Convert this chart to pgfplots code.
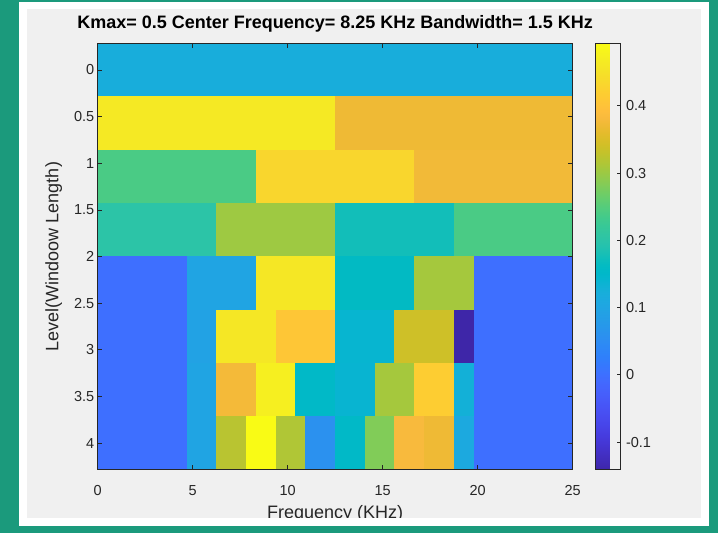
\documentclass[border=0pt]{standalone}
\usepackage{fontspec}
\setmainfont{Liberation Sans}
\usepackage{pgfplots}
\pgfplotsset{compat=1.18}
\definecolor{teal1}{RGB}{27,154,124}
\definecolor{panel}{RGB}{240,240,240}
\definecolor{axgray}{RGB}{38,38,38}
\pgfplotsset{colormap={parula}{
rgb=(0.2422,0.1504,0.6603) rgb=(0.2504,0.1650,0.7076) rgb=(0.2578,0.1818,0.7511) rgb=(0.2647,0.1978,0.7952)
rgb=(0.2706,0.2147,0.8364) rgb=(0.2751,0.2342,0.8710) rgb=(0.2783,0.2559,0.8991) rgb=(0.2803,0.2782,0.9221)
rgb=(0.2813,0.3006,0.9414) rgb=(0.2810,0.3228,0.9579) rgb=(0.2795,0.3447,0.9717) rgb=(0.2760,0.3667,0.9829)
rgb=(0.2699,0.3892,0.9906) rgb=(0.2602,0.4123,0.9952) rgb=(0.2440,0.4358,0.9988) rgb=(0.2206,0.4603,0.9973)
rgb=(0.1963,0.4847,0.9892) rgb=(0.1834,0.5074,0.9798) rgb=(0.1786,0.5289,0.9682) rgb=(0.1764,0.5499,0.9520)
rgb=(0.1687,0.5703,0.9359) rgb=(0.1540,0.5902,0.9218) rgb=(0.1460,0.6091,0.9079) rgb=(0.1380,0.6276,0.8973)
rgb=(0.1248,0.6459,0.8883) rgb=(0.1113,0.6635,0.8763) rgb=(0.0952,0.6798,0.8598) rgb=(0.0689,0.6948,0.8394)
rgb=(0.0297,0.7082,0.8163) rgb=(0.0036,0.7203,0.7917) rgb=(0.0067,0.7312,0.7660) rgb=(0.0433,0.7411,0.7394)
rgb=(0.0964,0.7500,0.7120) rgb=(0.1408,0.7584,0.6842) rgb=(0.1717,0.7670,0.6554) rgb=(0.1938,0.7758,0.6251)
rgb=(0.2161,0.7843,0.5923) rgb=(0.2470,0.7918,0.5567) rgb=(0.2906,0.7973,0.5188) rgb=(0.3406,0.8008,0.4789)
rgb=(0.3909,0.8029,0.4354) rgb=(0.4456,0.8024,0.3909) rgb=(0.5044,0.7993,0.3480) rgb=(0.5616,0.7942,0.3045)
rgb=(0.6174,0.7876,0.2612) rgb=(0.6720,0.7793,0.2227) rgb=(0.7242,0.7698,0.1910) rgb=(0.7738,0.7598,0.1646)
rgb=(0.8203,0.7498,0.1535) rgb=(0.8634,0.7406,0.1596) rgb=(0.9035,0.7330,0.1774) rgb=(0.9393,0.7288,0.2100)
rgb=(0.9728,0.7298,0.2394) rgb=(0.9956,0.7434,0.2371) rgb=(0.9970,0.7659,0.2199) rgb=(0.9952,0.7893,0.2028)
rgb=(0.9892,0.8136,0.1885) rgb=(0.9786,0.8386,0.1766) rgb=(0.9676,0.8639,0.1643) rgb=(0.9610,0.8890,0.1537)
rgb=(0.9597,0.9135,0.1423) rgb=(0.9628,0.9373,0.1265) rgb=(0.9691,0.9606,0.1064) rgb=(0.9769,0.9839,0.0805)
}}
\begin{document}
\begin{tikzpicture}[x=1pt,y=1pt]
\path[use as bounding box] (0,0) rectangle (718,533);
\fill[teal1] (0,0) rectangle (718,533);
\fill[white] (19,7) rectangle (709,531);
\fill[panel] (27,15) rectangle (701,524);
\begin{axis}[
  at={(97.7pt,63.3pt)}, anchor=south west,
  scale only axis, width=475pt, height=426.4pt,
  xmin=0, xmax=25, ymin=-0.2857, ymax=4.2857,
  y dir=reverse,
  xtick={0,5,10,15,20,25}, xticklabels={0,5,10,15,20,25},
  ytick={0,0.5,1,1.5,2,2.5,3,3.5,4}, yticklabels={0,0.5,1,1.5,2,2.5,3,3.5,4},
  tick align=inside, tick pos=both, major tick length=4.5pt,
  axis on top,
  axis line style={axgray, line width=0.7pt},
  every tick/.style={axgray, line width=0.7pt},
  tick label style={font=\fontsize{14.5}{16}\selectfont, text=axgray},
  xticklabel style={anchor=base, yshift=-25.3pt},
  /pgf/number format/assume math mode=true,
  colormap name=parula,
  point meta min=-0.141, point meta max=0.493,
  colorbar,
  colorbar style={
    at={(parent axis.north east)}, anchor=north west, xshift=14.3pt,
    width=25pt,
    ytick={-0.1,0,0.1,0.2,0.3,0.4},
    yticklabels={-0.1,0,0.1,0.2,0.3,0.4},
    ytick pos=right, yticklabel pos=right,
    major tick length=0pt,
    axis line style={axgray, line width=0.7pt},
    every tick/.style={draw=none},
    yticklabel style={font=\fontsize{14.5}{16}\selectfont, text=axgray, xshift=2pt},
    extra description/.code={
      \foreach \v in {-0.1,0,0.1,0.2,0.3,0.4} {
        \draw[axgray, line width=0.8pt] ({rel axis cs:1,0} |- {axis cs:0,\v}) -- ++(-4pt,0);
      }
    },
  },
  title={Kmax= 0.5 Center Frequency= 8.25 KHz Bandwidth= 1.5 KHz},
  title style={font=\fontsize{18}{21}\selectfont\bfseries, text=black, at={(axis description cs:0.5,1)}, anchor=base, yshift=9.3pt},
  xlabel={Frequency (KHz)},
  xlabel style={font=\fontsize{18}{21}\selectfont, text=axgray, at={(axis description cs:0.5,-0.1156)}, anchor=base},
  ylabel={Level(Windoow Length)},
  ylabel style={font=\fontsize{18}{21}\selectfont, text=axgray, at={(axis description cs:-0.0924,0.5)}, anchor=center},
]
\addplot[patch, patch type=rectangle, shader=flat, point meta=explicit] coordinates {
(0,-0.2857) [0.121] (25,-0.2857) [0.121] (25,0.2857) [0.121] (0,0.2857) [0.121]
(0,0.2857) [0.463] (12.5,0.2857) [0.463] (12.5,0.8571) [0.463] (0,0.8571) [0.463]
(12.5,0.2857) [0.372] (25,0.2857) [0.372] (25,0.8571) [0.372] (12.5,0.8571) [0.372]
(0,0.8571) [0.241] (8.3333,0.8571) [0.241] (8.3333,1.4286) [0.241] (0,1.4286) [0.241]
(8.3333,0.8571) [0.433] (16.6667,0.8571) [0.433] (16.6667,1.4286) [0.433] (8.3333,1.4286) [0.433]
(16.6667,0.8571) [0.375] (25,0.8571) [0.375] (25,1.4286) [0.375] (16.6667,1.4286) [0.375]
(0,1.4286) [0.201] (6.25,1.4286) [0.201] (6.25,2) [0.201] (0,2) [0.201]
(6.25,1.4286) [0.302] (12.5,1.4286) [0.302] (12.5,2) [0.302] (6.25,2) [0.302]
(12.5,1.4286) [0.176] (18.75,1.4286) [0.176] (18.75,2) [0.176] (12.5,2) [0.176]
(18.75,1.4286) [0.241] (25,1.4286) [0.241] (25,2) [0.241] (18.75,2) [0.241]
(0,2) [0] (4.6875,2) [0] (4.6875,2.5714) [0] (0,2.5714) [0]
(4.6875,2) [0.100] (8.3333,2) [0.100] (8.3333,2.5714) [0.100] (4.6875,2.5714) [0.100]
(8.3333,2) [0.46] (12.5,2) [0.46] (12.5,2.5714) [0.46] (8.3333,2.5714) [0.46]
(12.5,2) [0.161] (16.6667,2) [0.161] (16.6667,2.5714) [0.161] (12.5,2.5714) [0.161]
(16.6667,2) [0.307] (19.79,2) [0.307] (19.79,2.5714) [0.307] (16.6667,2.5714) [0.307]
(19.79,2) [0] (25,2) [0] (25,2.5714) [0] (19.79,2.5714) [0]
(0,2.5714) [0] (4.6875,2.5714) [0] (4.6875,3.1429) [0] (0,3.1429) [0]
(4.6875,2.5714) [0.095] (6.25,2.5714) [0.095] (6.25,3.1429) [0.095] (4.6875,3.1429) [0.095]
(6.25,2.5714) [0.46] (9.375,2.5714) [0.46] (9.375,3.1429) [0.46] (6.25,3.1429) [0.46]
(9.375,2.5714) [0.407] (12.5,2.5714) [0.407] (12.5,3.1429) [0.407] (9.375,3.1429) [0.407]
(12.5,2.5714) [0.141] (15.625,2.5714) [0.141] (15.625,3.1429) [0.141] (12.5,3.1429) [0.141]
(15.625,2.5714) [0.339] (18.75,2.5714) [0.339] (18.75,3.1429) [0.339] (15.625,3.1429) [0.339]
(18.75,2.5714) [-0.141] (19.79,2.5714) [-0.141] (19.79,3.1429) [-0.141] (18.75,3.1429) [-0.141]
(19.79,2.5714) [0] (25,2.5714) [0] (25,3.1429) [0] (19.79,3.1429) [0]
(0,3.1429) [0] (4.6875,3.1429) [0] (4.6875,3.7143) [0] (0,3.7143) [0]
(4.6875,3.1429) [0.1] (6.25,3.1429) [0.1] (6.25,3.7143) [0.1] (4.6875,3.7143) [0.1]
(6.25,3.1429) [0.377] (8.3333,3.1429) [0.377] (8.3333,3.7143) [0.377] (6.25,3.7143) [0.377]
(8.3333,3.1429) [0.473] (10.4167,3.1429) [0.473] (10.4167,3.7143) [0.473] (8.3333,3.7143) [0.473]
(10.4167,3.1429) [0.155] (12.5,3.1429) [0.155] (12.5,3.7143) [0.155] (10.4167,3.7143) [0.155]
(12.5,3.1429) [0.14] (14.5833,3.1429) [0.14] (14.5833,3.7143) [0.14] (12.5,3.7143) [0.14]
(14.5833,3.1429) [0.307] (16.6667,3.1429) [0.307] (16.6667,3.7143) [0.307] (14.5833,3.7143) [0.307]
(16.6667,3.1429) [0.418] (18.75,3.1429) [0.418] (18.75,3.7143) [0.418] (16.6667,3.7143) [0.418]
(18.75,3.1429) [0.128] (19.79,3.1429) [0.128] (19.79,3.7143) [0.128] (18.75,3.7143) [0.128]
(19.79,3.1429) [0] (25,3.1429) [0] (25,3.7143) [0] (19.79,3.7143) [0]
(0,3.7143) [0] (4.6875,3.7143) [0] (4.6875,4.2857) [0] (0,4.2857) [0]
(4.6875,3.7143) [0.1] (6.25,3.7143) [0.1] (6.25,4.2857) [0.1] (4.6875,4.2857) [0.1]
(6.25,3.7143) [0.322] (7.8125,3.7143) [0.322] (7.8125,4.2857) [0.322] (6.25,4.2857) [0.322]
(7.8125,3.7143) [0.493] (9.375,3.7143) [0.493] (9.375,4.2857) [0.493] (7.8125,4.2857) [0.493]
(9.375,3.7143) [0.315] (10.9375,3.7143) [0.315] (10.9375,4.2857) [0.315] (9.375,4.2857) [0.315]
(10.9375,3.7143) [0.06] (12.5,3.7143) [0.06] (12.5,4.2857) [0.06] (10.9375,4.2857) [0.06]
(12.5,3.7143) [0.155] (14.0625,3.7143) [0.155] (14.0625,4.2857) [0.155] (12.5,4.2857) [0.155]
(14.0625,3.7143) [0.282] (15.625,3.7143) [0.282] (15.625,4.2857) [0.282] (14.0625,4.2857) [0.282]
(15.625,3.7143) [0.382] (17.1875,3.7143) [0.382] (17.1875,4.2857) [0.382] (15.625,4.2857) [0.382]
(17.1875,3.7143) [0.372] (18.75,3.7143) [0.372] (18.75,4.2857) [0.372] (17.1875,4.2857) [0.372]
(18.75,3.7143) [0.111] (19.79,3.7143) [0.111] (19.79,4.2857) [0.111] (18.75,4.2857) [0.111]
(19.79,3.7143) [0] (25,3.7143) [0] (25,4.2857) [0] (19.79,4.2857) [0]
};
\end{axis}
\fill[white] (19,7) rectangle (709,15);
\fill[teal1] (0,0) rectangle (718,7);
\end{tikzpicture}
\end{document}
